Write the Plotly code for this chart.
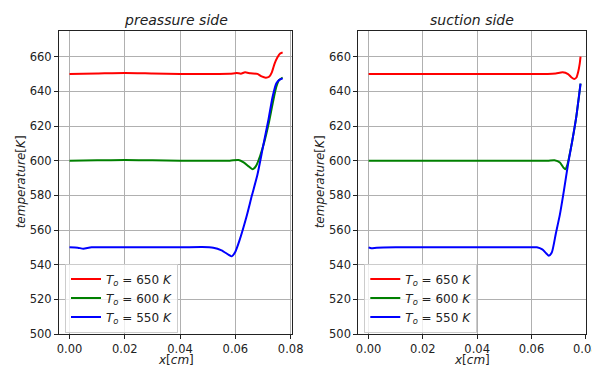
import plotly.graph_objects as go

# ---------------- data ----------------
# pressure side
p_red_x = [0, 0.01, 0.02, 0.03, 0.04, 0.05, 0.058, 0.0605, 0.062, 0.0635, 0.0655, 0.068, 0.0695, 0.071, 0.0722, 0.0732, 0.0742, 0.0752, 0.0762, 0.0771]
p_red_y = [650.0, 650.3, 650.6, 650.3, 650.0, 650.0, 650.1, 650.6, 650.2, 651.0, 650.4, 650.1, 648.6, 647.9, 648.4, 651.0, 656.0, 659.5, 661.8, 662.5]
p_green_x = [0, 0.01, 0.02, 0.03, 0.04, 0.05, 0.058, 0.0612, 0.063, 0.065, 0.0663, 0.0675, 0.069, 0.0705, 0.072, 0.0735, 0.0748, 0.0758, 0.0771]
p_green_y = [600, 600.2, 600.4, 600.2, 600.0, 599.9, 600.0, 600.4, 599.0, 596.5, 595.0, 597.0, 603.0, 611.0, 621.0, 633.0, 642.5, 646.5, 648.0]
p_blue_x = [0, 0.003, 0.005, 0.008, 0.02, 0.04, 0.048, 0.052, 0.055, 0.0575, 0.0587, 0.0600, 0.0615, 0.064, 0.066, 0.068, 0.070, 0.072, 0.0735, 0.0748, 0.0758, 0.0771]
p_blue_y = [550, 549.8, 549.2, 550, 550, 550, 550.2, 549.8, 548.3, 545.8, 544.8, 547.5, 554, 567.5, 580, 592, 608, 624, 637, 644.5, 646.5, 647.5]

# suction side
s_red_x = [0, 0.01, 0.02, 0.04, 0.06, 0.066, 0.069, 0.0715, 0.0735, 0.0748, 0.0758, 0.0766, 0.0772, 0.0778, 0.0781]
s_red_y = [650, 650, 650, 650, 650, 650.0, 650.3, 651.0, 650.0, 648.0, 647.2, 648.0, 651, 656, 660]
s_green_x = [0, 0.02, 0.04, 0.06, 0.066, 0.0685, 0.0705, 0.0718, 0.0725, 0.0732, 0.0738, 0.075, 0.0765, 0.0775, 0.0781]
s_green_y = [600, 600, 600, 600, 600, 600.3, 599, 596, 595, 597.5, 601.5, 611, 625, 637, 644.5]
s_blue_x = [0, 0.001, 0.003, 0.01, 0.02, 0.04, 0.06, 0.062, 0.064, 0.0655, 0.0664, 0.0675, 0.069, 0.0705, 0.072, 0.0735, 0.075, 0.0765, 0.0775, 0.0781]
s_blue_y = [550, 549.5, 549.8, 550, 550, 550, 550.1, 550.0, 548.8, 546.5, 545.2, 547.0, 558, 569, 583, 598, 611, 625, 637, 644.5]

labels = ["650", "600", "550"]
colors = ["#ff0000", "#008000", "#0000ff"]
y_ticks = [500, 520, 540, 560, 580, 600, 620, 640, 660]
x_ticks = [0.0, 0.02, 0.04, 0.06, 0.08]
titles = ["preassure side", "suction side"]

FONT = "DejaVu Sans"
W, H = 592, 369

fig = go.Figure()

press = [(p_red_x, p_red_y), (p_green_x, p_green_y), (p_blue_x, p_blue_y)]
suct = [(s_red_x, s_red_y), (s_green_x, s_green_y), (s_blue_x, s_blue_y)]

def lab(t):
    return "<i>T</i><sub><i>o</i></sub> = " + t + " <i>K</i>"

for (xs, ys), c, t in zip(press, colors, labels):
    fig.add_trace(go.Scatter(x=xs, y=ys, mode="lines", line=dict(color=c, width=2, shape="spline", smoothing=0.6),
                             name=lab(t), xaxis="x", yaxis="y", legend="legend"))
for (xs, ys), c, t in zip(suct, colors, labels):
    fig.add_trace(go.Scatter(x=xs, y=ys, mode="lines", line=dict(color=c, width=2, shape="spline", smoothing=0.6),
                             name=lab(t), xaxis="x2", yaxis="y2", legend="legend2"))

def px_x(p):
    return p / W

def px_y(p):
    return 1 - p / H

ydom = [px_y(334), px_y(30.7)]
axis_common = dict(showline=True, linecolor="#222222", linewidth=1, mirror=True,
                   showgrid=True, gridcolor="#b0b0b0", gridwidth=0.9,
                   ticks="outside", ticklen=4, tickcolor="#222222", tickwidth=1,
                   tickfont=dict(family=FONT, size=11.5, color="#222222"),
                   zeroline=False, automargin=False, ticklabeloverflow="allow")

fig.update_layout(
    width=W, height=H,
    margin=dict(l=0, r=0, t=0, b=0, autoexpand=False),
    paper_bgcolor="white", plot_bgcolor="white",
    xaxis=dict(domain=[px_x(59), px_x(292.3)], range=[-0.0038, 0.0806], tickvals=x_ticks,
               tickformat=".2f", anchor="y", **axis_common),
    yaxis=dict(domain=ydom, range=[500, 675], tickvals=y_ticks, anchor="x", **axis_common),
    xaxis2=dict(domain=[px_x(358.3), px_x(585.7)], range=[-0.0038, 0.0800], tickvals=x_ticks,
                tickformat=".2f", anchor="y2", **axis_common),
    yaxis2=dict(domain=ydom, range=[500, 675], tickvals=y_ticks, anchor="x2", **axis_common),
    legend=dict(x=px_x(65), y=px_y(332.5), xanchor="left", yanchor="bottom",
                bgcolor="rgba(255,255,255,0.8)", bordercolor="#cccccc", borderwidth=1,
                font=dict(family=FONT, size=12, color="#222222"), tracegroupgap=0, itemwidth=30),
    legend2=dict(x=px_x(364.3), y=px_y(332.5), xanchor="left", yanchor="bottom",
                 bgcolor="rgba(255,255,255,0.8)", bordercolor="#cccccc", borderwidth=1,
                 font=dict(family=FONT, size=12, color="#222222"), tracegroupgap=0, itemwidth=30),
    showlegend=True,
)

ann = []
for cx, t in [((59 + 292.3) / 2, titles[0]), ((358.3 + 585.7) / 2, titles[1])]:
    ann.append(dict(x=px_x(cx), y=px_y(20), xref="paper", yref="paper", text="<i>" + t + "</i>",
                    showarrow=False, xanchor="center", yanchor="middle",
                    font=dict(family=FONT, size=14, color="#222222")))
    ann.append(dict(x=px_x(cx), y=px_y(360), xref="paper", yref="paper", text="<i>x</i>[<i>cm</i>]",
                    showarrow=False, xanchor="center", yanchor="middle",
                    font=dict(family=FONT, size=12, color="#222222")))
for lx in [21, 320]:
    ann.append(dict(x=px_x(lx), y=px_y((334 + 30.7) / 2), xref="paper", yref="paper",
                    text="<i>temperature</i>[<i>K</i>]", textangle=-90,
                    showarrow=False, xanchor="center", yanchor="middle",
                    font=dict(family=FONT, size=12, color="#222222")))
fig.update_layout(annotations=ann)

fig.write_html("out.html")
